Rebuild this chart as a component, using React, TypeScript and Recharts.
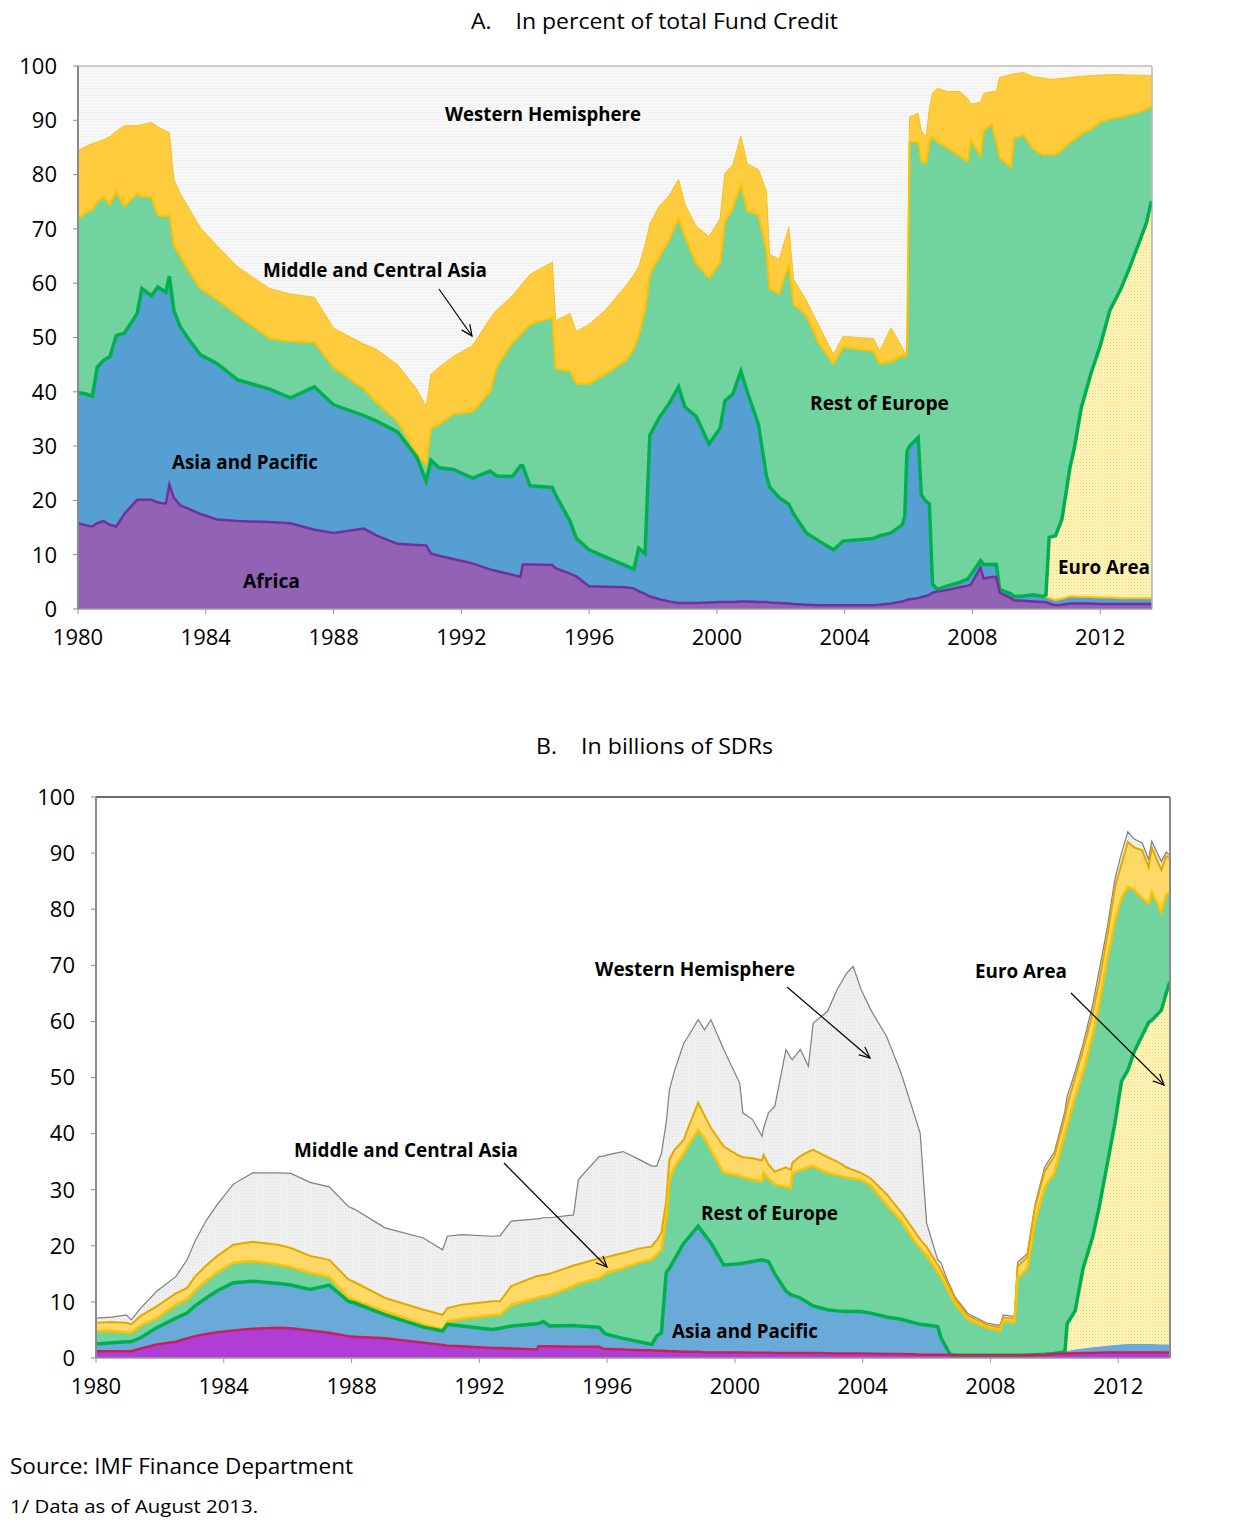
import React from 'react';
import { ComposedChart, Area, Line, XAxis, YAxis, CartesianGrid, ReferenceLine } from 'recharts';

// ---------- Panel A: in percent of total Fund credit (upper edge of each cumulative band) ----------
const yearsA = [1980, 1980.25, 1980.45, 1980.6, 1980.8, 1981, 1981.2, 1981.45, 1981.85, 1982, 1982.3, 1982.5, 1982.75, 1982.86, 1983, 1983.2, 1983.45, 1983.83, 1984.35, 1985, 1986, 1986.65, 1987.4, 1988, 1988.95, 1989.35, 1990, 1990.6, 1990.9, 1991.05, 1991.3, 1991.75, 1992.35, 1992.9, 1993.1, 1993.6, 1993.85, 1993.92, 1994.15, 1994.85, 1994.95, 1995.4, 1995.6, 1996, 1996.5, 1997.15, 1997.4, 1997.55, 1997.75, 1997.9, 1998.2, 1998.5, 1998.8, 1999, 1999.35, 1999.75, 2000.1, 2000.25, 2000.5, 2000.75, 2000.95, 2001.3, 2001.55, 2001.65, 2001.95, 2002.25, 2002.4, 2002.8, 2003.2, 2003.65, 2003.95, 2004.9, 2005.1, 2005.45, 2005.8, 2005.88, 2005.95, 2006.03, 2006.3, 2006.4, 2006.55, 2006.65, 2006.75, 2006.9, 2007.2, 2007.6, 2007.85, 2007.95, 2008.25, 2008.35, 2008.6, 2008.75, 2008.85, 2009.2, 2009.3, 2009.6, 2009.9, 2010.2, 2010.3, 2010.4, 2010.6, 2010.8, 2011.05, 2011.2, 2011.4, 2011.7, 2012, 2012.3, 2012.65, 2012.9, 2013.2, 2013.45, 2013.6];
const africaA = [15.8, 15.4, 15.2, 15.8, 16.2, 15.5, 15.2, 17.5, 20.1, 20.1, 20.1, 19.6, 19.4, 22.9, 20.5, 19.1, 18.5, 17.5, 16.5, 16.2, 16, 15.8, 14.6, 14, 14.8, 13.5, 12, 11.8, 11.7, 10.2, 9.8, 9.2, 8.4, 7.3, 7, 6.3, 5.9, 8.2, 8.2, 8.1, 7.5, 6.5, 6, 4.2, 4.1, 4, 3.8, 3.3, 2.8, 2.3, 1.8, 1.4, 1.1, 1.1, 1.1, 1.2, 1.3, 1.3, 1.3, 1.4, 1.4, 1.3, 1.3, 1.2, 1.1, 1, 0.9, 0.8, 0.7, 0.7, 0.7, 0.7, 0.8, 1, 1.4, 1.5, 1.7, 1.8, 2, 2.2, 2.4, 2.6, 3, 3.2, 3.5, 4, 4.3, 4.5, 7.6, 5.6, 5.9, 5.9, 3, 2, 1.6, 1.5, 1.4, 1.3, 1.3, 1, 0.7, 0.8, 1, 1, 1, 1, 0.9, 0.9, 0.9, 0.9, 0.9, 0.9, 0.9];
const asiaPacificTopA = [39.9, 39.6, 39.2, 44.5, 45.8, 46.5, 50.4, 50.8, 54.4, 59, 57.7, 59.3, 58.3, 61.3, 55, 52, 49.8, 46.8, 45.2, 42.2, 40.5, 38.9, 40.9, 37.6, 35.6, 34.6, 32.6, 28, 23.5, 27.4, 26, 25.7, 24.1, 25.4, 24.5, 24.4, 26.4, 26.4, 22.7, 22.4, 21, 16.2, 13, 10.9, 9.6, 8, 7.3, 11.2, 10.2, 32, 35.3, 37.8, 40.9, 37.2, 35.5, 30.4, 33.3, 38.3, 39.6, 43.8, 40, 34, 24.5, 22.5, 20.5, 19.3, 17.5, 14, 12.5, 10.9, 12.5, 13, 13.5, 14, 15.5, 17, 29, 30, 31.6, 21, 19.8, 19.4, 4.6, 3.6, 4.2, 4.9, 5.5, 6.3, 8.9, 8.2, 8.2, 8.2, 3.6, 2.8, 2.3, 2.4, 2.6, 2.3, 2.3, 2, 1.6, 1.9, 2.3, 2.3, 2.2, 2.2, 2.1, 2.1, 2, 2, 2, 2, 2];
const euroAreaTopA = [39.9, 39.6, 39.2, 44.5, 45.8, 46.5, 50.4, 50.8, 54.4, 59, 57.7, 59.3, 58.3, 61.3, 55, 52, 49.8, 46.8, 45.2, 42.2, 40.5, 38.9, 40.9, 37.6, 35.6, 34.6, 32.6, 28, 23.5, 27.4, 26, 25.7, 24.1, 25.4, 24.5, 24.4, 26.4, 26.4, 22.7, 22.4, 21, 16.2, 13, 10.9, 9.6, 8, 7.3, 11.2, 10.2, 32, 35.3, 37.8, 40.9, 37.2, 35.5, 30.4, 33.3, 38.3, 39.6, 43.8, 40, 34, 24.5, 22.5, 20.5, 19.3, 17.5, 14, 12.5, 10.9, 12.5, 13, 13.5, 14, 15.5, 17, 29, 30, 31.6, 21, 19.8, 19.4, 4.6, 3.6, 4.2, 4.9, 5.5, 6.3, 8.9, 8.2, 8.2, 8.2, 3.6, 2.8, 2.3, 2.4, 2.6, 2.3, 2.6, 13.2, 13.5, 16.5, 26, 30, 36.9, 43.2, 48.5, 55, 59, 62.6, 67.2, 71.2, 75.1];
const restEuropeTopA = [71.9, 73, 73.5, 75, 75.8, 74.5, 76.8, 74.2, 76.5, 76, 75.8, 72.5, 72.3, 72.8, 67, 65, 62.5, 59, 57, 54.1, 49.8, 49.3, 49.1, 44.5, 40.5, 38, 34.6, 28.7, 26.5, 33.3, 33.9, 35.9, 36.3, 40, 44.5, 49.1, 50.5, 51, 52.4, 53.7, 44.2, 43.8, 41.5, 41.5, 43.2, 45.8, 48, 50.4, 55, 61.6, 64.9, 68, 71.9, 68.6, 63.6, 61, 63.7, 71.3, 73.9, 78.2, 73.3, 72.6, 66, 59, 58, 63.5, 56.1, 54.1, 48.8, 45.2, 48.2, 47.5, 45.2, 45.5, 46.7, 46.5, 47, 86, 86, 82.4, 82.1, 86, 87, 86, 85, 83.4, 82.4, 86.4, 83.4, 88, 89.3, 86, 83.1, 81.4, 86.7, 87.3, 84.7, 83.7, 83.7, 83.7, 83.7, 84.5, 86, 86.5, 87.5, 88.3, 89.7, 90.3, 90.6, 91, 91.5, 92, 92.6];
const middleCentralAsiaTopA = [84.4, 85.2, 85.7, 86, 86.4, 87, 88, 89, 89, 89.2, 89.6, 88.8, 88, 87.7, 79.1, 76.5, 74, 70.2, 66.9, 63, 59, 58, 57.4, 51.7, 48.8, 47.8, 45, 40.5, 37.2, 43.2, 44.5, 46.5, 48.5, 53.5, 55, 57.7, 59.5, 60, 61.6, 63.9, 53.1, 54.4, 51.1, 52.4, 55, 59.5, 61.5, 63, 67, 70.9, 74.2, 76.1, 79.1, 74.5, 70.5, 68.6, 71.9, 80.2, 81.8, 87.1, 82, 80.9, 77, 65.3, 64.4, 70.3, 60.7, 56.8, 52.1, 46.9, 50.2, 49.8, 47.5, 51.8, 48.2, 47, 47.5, 90.6, 91.3, 88, 87, 92, 95, 95.9, 95.3, 95.3, 94, 93, 93.3, 94.9, 95.3, 95.3, 97.9, 98.4, 98.6, 98.8, 98, 97.8, 97.7, 97.6, 97.6, 97.7, 97.9, 98, 98.1, 98.2, 98.3, 98.4, 98.4, 98.3, 98.3, 98.2, 98.2];

// ---------- Panel B: in billions of SDRs (upper edge of each cumulative band) ----------
const yearsB = [1980, 1980.5, 1980.95, 1981.1, 1981.4, 1981.9, 1982.5, 1982.85, 1983.1, 1983.45, 1983.8, 1984.3, 1984.9, 1985.7, 1986.1, 1986.7, 1987.3, 1987.9, 1988.1, 1989.05, 1990.25, 1990.85, 1991, 1991.45, 1992.4, 1992.65, 1993, 1993.8, 1993.85, 1994, 1994.2, 1994.95, 1995.1, 1995.75, 1995.9, 1996, 1996.5, 1997, 1997.4, 1997.55, 1997.7, 1997.85, 1997.95, 1998.1, 1998.4, 1998.5, 1998.85, 1999.05, 1999.25, 1999.65, 2000.15, 2000.25, 2000.55, 2000.85, 2000.9, 2001.05, 2001.25, 2001.6, 2001.75, 2001.8, 2002.05, 2002.3, 2002.45, 2002.9, 2003.2, 2003.5, 2003.7, 2003.95, 2004.25, 2004.75, 2005.2, 2005.6, 2005.8, 2006, 2006.35, 2006.45, 2006.65, 2006.75, 2006.9, 2007.3, 2007.9, 2008.3, 2008.4, 2008.75, 2008.85, 2009.15, 2009.4, 2009.7, 2010, 2010.33, 2010.4, 2010.65, 2010.9, 2011.2, 2011.4, 2011.65, 2011.9, 2012.1, 2012.3, 2012.5, 2012.75, 2012.95, 2013.05, 2013.35, 2013.5, 2013.62];
const africaB = [1.2, 1.2, 1.2, 1.2, 1.7, 2.4, 2.9, 3.5, 3.9, 4.3, 4.6, 4.9, 5.2, 5.4, 5.3, 4.9, 4.5, 3.9, 3.8, 3.5, 2.7, 2.3, 2.2, 2.1, 1.8, 1.8, 1.7, 1.5, 2.1, 2.1, 2.1, 2, 2, 2, 1.6, 1.6, 1.5, 1.4, 1.4, 1.3, 1.3, 1.25, 1.2, 1.2, 1.1, 1.1, 1.1, 1, 1, 1, 1, 1, 0.95, 0.95, 0.95, 0.95, 0.9, 0.9, 0.9, 0.9, 0.9, 0.9, 0.9, 0.85, 0.8, 0.8, 0.8, 0.8, 0.75, 0.7, 0.7, 0.65, 0.6, 0.6, 0.6, 0.6, 0.6, 0.6, 0.5, 0.5, 0.5, 0.5, 0.5, 0.5, 0.5, 0.5, 0.55, 0.6, 0.7, 0.8, 0.8, 0.85, 0.9, 0.9, 0.95, 1, 1, 1, 1, 1, 1, 1, 1, 1, 1, 1];
const asiaPacificTopB = [2.5, 2.7, 2.9, 2.9, 3.6, 5.4, 7.1, 8, 9.3, 10.7, 12, 13.4, 13.7, 13.3, 13, 12.2, 13, 10.1, 9.8, 7.7, 5.5, 4.8, 6, 5.7, 5.1, 5.3, 5.7, 6.1, 6.1, 6.5, 5.7, 5.8, 5.7, 5.5, 4.5, 4.2, 3.5, 2.9, 2.4, 3.9, 4.5, 15.2, 16, 17.5, 20.5, 21.1, 23.5, 22, 20.5, 16.6, 16.8, 16.9, 17.2, 17.5, 17.4, 17.2, 15, 11.9, 11.3, 11.2, 10.7, 9.8, 9.3, 8.6, 8.4, 8.3, 8.3, 8.3, 8, 7.3, 6.9, 6.3, 6, 5.9, 5.6, 3.6, 1.5, 0.6, 0.5, 0.5, 0.5, 0.5, 0.5, 0.5, 0.5, 0.55, 0.6, 0.65, 0.8, 1.1, 1.2, 1.5, 1.7, 1.9, 2, 2.2, 2.3, 2.4, 2.5, 2.5, 2.5, 2.5, 2.5, 2.4, 2.4, 2.3];
const euroAreaTopB = [2.5, 2.7, 2.9, 2.9, 3.6, 5.4, 7.1, 8, 9.3, 10.7, 12, 13.4, 13.7, 13.3, 13, 12.2, 13, 10.1, 9.8, 7.7, 5.5, 4.8, 6, 5.7, 5.1, 5.3, 5.7, 6.1, 6.1, 6.5, 5.7, 5.8, 5.7, 5.5, 4.5, 4.2, 3.5, 2.9, 2.4, 3.9, 4.5, 15.2, 16, 17.5, 20.5, 21.1, 23.5, 22, 20.5, 16.6, 16.8, 16.9, 17.2, 17.5, 17.4, 17.2, 15, 11.9, 11.3, 11.2, 10.7, 9.8, 9.3, 8.6, 8.4, 8.3, 8.3, 8.3, 8, 7.3, 6.9, 6.3, 6, 5.9, 5.6, 3.6, 1.5, 0.6, 0.5, 0.5, 0.5, 0.5, 0.5, 0.5, 0.5, 0.55, 0.6, 0.65, 0.8, 1.1, 6.1, 8.4, 16, 21.6, 26.8, 34.4, 42, 49.3, 51.3, 54.6, 57.5, 59.8, 60.2, 62, 65, 67.1];
const restEuropeTopB = [4.8, 4.8, 4.6, 4.5, 5.8, 7.1, 9.5, 10.4, 12, 13.8, 15.3, 17, 17.3, 16.7, 16.2, 15.2, 14.5, 10.7, 10.3, 8.3, 6, 5.1, 6.5, 7, 7.6, 7.7, 9.5, 10.7, 10.8, 11, 11.2, 12.8, 13.3, 14.2, 14.8, 15.2, 16, 17, 17.6, 18.5, 19.3, 25, 31.8, 34, 36.5, 37.5, 40.7, 39.2, 37, 33, 32.5, 32.2, 31.8, 31.5, 33, 32, 31, 30.5, 30.3, 33, 33.5, 34, 34.2, 33, 32.6, 32.2, 32, 31.8, 30.8, 27.3, 24.5, 21, 19.6, 18.3, 15.3, 14.5, 12.3, 11.3, 9.6, 6.9, 5.4, 4.9, 6.6, 6.4, 14.3, 15.8, 24.5, 30.5, 33, 40, 41.5, 46.5, 51, 57.5, 63, 71, 78, 82, 84, 83.5, 82, 81, 83, 79.5, 82.5, 83];
const middleCentralAsiaTopB = [6.3, 6.4, 6.3, 6, 7.5, 9.2, 11.5, 12.5, 14.5, 16.5, 18.2, 20.2, 20.7, 20.2, 19.6, 18.2, 17.5, 14, 13.5, 10.7, 8.6, 7.7, 8.9, 9.5, 10.1, 10.1, 12.8, 14.6, 14.6, 14.8, 15, 16.5, 16.7, 17.8, 17.8, 18, 18.7, 19.5, 19.9, 21, 22.3, 28, 35.4, 37, 38.9, 40.5, 45.5, 43.2, 41, 37.7, 36, 35.8, 35.6, 35.2, 36.2, 34.5, 33.2, 34, 33.5, 34.8, 36, 36.8, 37.1, 35.8, 35, 34, 33.5, 33, 32, 29.2, 26, 22.8, 21.1, 19.8, 16.6, 15.7, 13.3, 12.2, 10.4, 7.5, 5.9, 5.4, 7.2, 7, 16.3, 18, 27, 33.3, 36, 43, 45, 50, 55, 61.5, 67, 75, 84, 88, 92, 91, 90.5, 87.5, 91, 87, 89.5, 89];
const westernHemisphereTopB = [7.1, 7.3, 7.7, 6.8, 8.9, 11.9, 14.5, 17.5, 20.8, 24.5, 27.4, 31, 33, 33, 32.9, 31.3, 30.5, 27, 26.5, 23.2, 21.4, 19.3, 21.7, 22, 21.7, 21.8, 24.4, 24.8, 24.8, 25, 25, 25.5, 31.8, 35.9, 36, 36.2, 36.8, 35.4, 34.2, 34.2, 36.5, 42, 47.8, 51, 56.1, 57, 60.3, 58.5, 60.3, 55, 49, 43.7, 42.5, 39.5, 41, 43.7, 44.9, 55, 53.5, 53.2, 55, 52, 59.7, 61.8, 65.7, 68.6, 69.8, 65.7, 62.1, 57.3, 50.8, 43.7, 40.1, 24.1, 17.5, 17, 13.9, 12.7, 10.8, 7.9, 6.2, 5.8, 7.7, 7.4, 17, 18.6, 27.5, 34.1, 36.7, 44, 46.6, 51, 56, 63, 69, 76.5, 85.5, 90, 93.8, 92.5, 91.8, 88.9, 92.1, 88.5, 90.2, 89.5];

const yearTicks = [1980, 1984, 1988, 1992, 1996, 2000, 2004, 2008, 2012];
const valueTicks = [0, 10, 20, 30, 40, 50, 60, 70, 80, 90, 100];

const dataA = yearsA.map((t, i) => ({
  t,
  africa: africaA[i],
  asia: asiaPacificTopA[i],
  euro: euroAreaTopA[i],
  roe: restEuropeTopA[i],
  mca: middleCentralAsiaTopA[i],
}));
const dataB = yearsB.map((t, i) => ({
  t,
  africa: africaB[i],
  asia: asiaPacificTopB[i],
  euro: euroAreaTopB[i],
  roe: restEuropeTopB[i],
  mca: middleCentralAsiaTopB[i],
  wh: westernHemisphereTopB[i],
}));

const FONT = '"Open Sans", "Noto Sans", "DejaVu Sans", sans-serif';
const tickStyle = { fill: '#000', fontSize: 22, fontFamily: FONT };

const Patterns = () => (
  <defs>
    <pattern id="whA" width="4" height="3" patternUnits="userSpaceOnUse">
      <rect width="4" height="3" fill="#F3F3F3" />
      <rect width="4" height="1" fill="#FAFAFA" />
    </pattern>
    <pattern id="whB" width="3" height="3" patternUnits="userSpaceOnUse">
      <rect width="3" height="3" fill="#F2F2F2" />
      <rect x="0" y="0" width="1" height="1" fill="#DCDCDC" />
      <rect x="1.5" y="1.5" width="1" height="1" fill="#E2E2E2" />
    </pattern>
    <pattern id="euroDots" width="3" height="3" patternUnits="userSpaceOnUse">
      <rect width="3" height="3" fill="#FFF6C4" />
      <rect x="0" y="0" width="1" height="1" fill="#F7D54E" />
      <rect x="1.5" y="1.5" width="1" height="1" fill="#FBE07A" />
    </pattern>
  </defs>
);

const ChartA = () => (
  <ComposedChart width={1243} height={660} data={dataA} margin={{ top: 66, right: 31, bottom: 21, left: 18 }}>
    <Patterns />
    <CartesianGrid horizontal={false} vertical={false} fill="url(#whA)" />
    <XAxis
      type="number"
      dataKey="t"
      domain={[1980, 2013.62]}
      ticks={yearTicks}
      allowDataOverflow
      height={30}
      tickSize={5}
      tickMargin={15}
      tick={tickStyle}
      stroke="#9A9A9A"
      axisLine={{ stroke: '#9A9A9A', strokeWidth: 1.5 }}
    />
    <YAxis yAxisId="l" domain={[0, 100]} ticks={valueTicks} width={60} tickSize={5} tickMargin={16} tick={tickStyle} stroke="#8A8A8A" axisLine={{ stroke: '#8A8A8A', strokeWidth: 2 }} />
    <YAxis yAxisId="r" orientation="right" domain={[0, 100]} ticks={valueTicks} width={60} tickSize={5} tickMargin={18} tick={{ ...tickStyle, textAnchor: 'start' }} stroke="#9A9A9A" />
    <ReferenceLine yAxisId="l" y={100} stroke="#BDBDBD" strokeWidth={1.5} />
    <Area yAxisId="l" type="linear" dataKey="mca" fill="#FFCC3E" fillOpacity={1} stroke="none" isAnimationActive={false} />
    <Area yAxisId="l" type="linear" dataKey="roe" fill="#71D39E" fillOpacity={1} stroke="none" isAnimationActive={false} />
    <Area yAxisId="l" type="linear" dataKey="euro" fill="url(#euroDots)" fillOpacity={1} stroke="none" isAnimationActive={false} />
    <Area yAxisId="l" type="linear" dataKey="asia" fill="#569FD3" fillOpacity={1} stroke="none" isAnimationActive={false} />
    <Area yAxisId="l" type="linear" dataKey="africa" fill="#9262B5" fillOpacity={1} stroke="none" isAnimationActive={false} />
    <Line yAxisId="l" type="linear" dataKey="mca" stroke="#F7C027" strokeWidth={1} dot={false} activeDot={false} isAnimationActive={false} />
    <Line yAxisId="l" type="linear" dataKey="roe" stroke="#FFC000" strokeWidth={2} dot={false} activeDot={false} isAnimationActive={false} />
    <Line yAxisId="l" type="linear" dataKey="asia" stroke="#FFC000" strokeWidth={2} dot={false} activeDot={false} isAnimationActive={false} />
    <Line yAxisId="l" type="linear" dataKey="euro" stroke="#00B050" strokeWidth={3.5} dot={false} activeDot={false} isAnimationActive={false} />
    <Line yAxisId="l" type="linear" dataKey="africa" stroke="#7030A0" strokeWidth={2.5} dot={false} activeDot={false} isAnimationActive={false} />
  </ComposedChart>
);

const ChartB = () => (
  <ComposedChart width={1243} height={660} data={dataB} margin={{ top: 57, right: 13, bottom: 12, left: 36 }}>
    <Patterns />
    <XAxis
      type="number"
      dataKey="t"
      domain={[1980, 2013.62]}
      ticks={yearTicks}
      allowDataOverflow
      height={30}
      tickSize={5}
      tickMargin={15}
      tick={tickStyle}
      stroke="#9A9A9A"
      axisLine={{ stroke: '#9A9A9A', strokeWidth: 1.5 }}
    />
    <YAxis yAxisId="l" domain={[0, 100]} ticks={valueTicks} width={60} tickSize={5} tickMargin={16} tick={tickStyle} stroke="#8A8A8A" axisLine={{ stroke: '#8A8A8A', strokeWidth: 2 }} />
    <YAxis yAxisId="r" orientation="right" domain={[0, 100]} ticks={valueTicks} width={60} tickSize={5} tickMargin={15} tick={{ ...tickStyle, textAnchor: 'start' }} stroke="#8A8A8A" axisLine={{ stroke: '#8A8A8A', strokeWidth: 2 }} />
    <ReferenceLine yAxisId="l" y={100} stroke="#3A3A3A" strokeWidth={1.5} />
    <Area yAxisId="l" type="linear" dataKey="wh" fill="url(#whB)" fillOpacity={1} stroke="none" isAnimationActive={false} />
    <Area yAxisId="l" type="linear" dataKey="mca" fill="#FFD966" fillOpacity={1} stroke="none" isAnimationActive={false} />
    <Area yAxisId="l" type="linear" dataKey="roe" fill="#71D39E" fillOpacity={1} stroke="none" isAnimationActive={false} />
    <Area yAxisId="l" type="linear" dataKey="euro" fill="url(#euroDots)" fillOpacity={1} stroke="none" isAnimationActive={false} />
    <Area yAxisId="l" type="linear" dataKey="asia" fill="#6AAAD8" fillOpacity={1} stroke="none" isAnimationActive={false} />
    <Area yAxisId="l" type="linear" dataKey="africa" fill="#B03DD5" fillOpacity={1} stroke="none" isAnimationActive={false} />
    <Line yAxisId="l" type="linear" dataKey="wh" stroke="#7F7F7F" strokeWidth={1.2} dot={false} activeDot={false} isAnimationActive={false} />
    <Line yAxisId="l" type="linear" dataKey="mca" stroke="#E3A800" strokeWidth={2} dot={false} activeDot={false} isAnimationActive={false} />
    <Line yAxisId="l" type="linear" dataKey="roe" stroke="#FFC000" strokeWidth={2.5} dot={false} activeDot={false} isAnimationActive={false} />
    <Line yAxisId="l" type="linear" dataKey="euro" stroke="#00B050" strokeWidth={3.5} dot={false} activeDot={false} isAnimationActive={false} />
    <Line yAxisId="l" type="linear" dataKey="africa" stroke="#C8205A" strokeWidth={2.5} dot={false} activeDot={false} isAnimationActive={false} />
  </ComposedChart>
);

const Label = ({ x, y, w, children, bold = true, size = 19 }: { x: number; y: number; w: number; children: React.ReactNode; bold?: boolean; size?: number }) => (
  <text x={x} y={y} dominantBaseline="central" fontFamily={FONT} fontWeight={bold ? 700 : 400} fontSize={size} fill="#000" textLength={w} lengthAdjust="spacingAndGlyphs" style={{ whiteSpace: 'pre' }}>
    {children}
  </text>
);

const Arrow = ({ x1, y1, x2, y2 }: { x1: number; y1: number; x2: number; y2: number }) => (
  <line x1={x1} y1={y1} x2={x2} y2={y2} stroke="#000" strokeWidth={1.2} markerEnd="url(#openArrow)" />
);

const Overlay = () => (
  <svg width={1243} height={1537} style={{ position: 'absolute', left: 0, top: 0, pointerEvents: 'none' }}>
    <defs>
      <marker id="openArrow" viewBox="0 0 12 12" refX="11" refY="6" markerWidth="12" markerHeight="12" markerUnits="userSpaceOnUse" orient="auto">
        <path d="M0,1 L11,6 L0,11" fill="none" stroke="#000" strokeWidth={1.2} />
      </marker>
    </defs>
    {/* titles */}
    <Label x={471} y={21} w={367} bold={false} size={21}>{'A.    In percent of total Fund Credit'}</Label>
    <Label x={536} y={746} w={237} bold={false} size={21}>{'B.    In billions of SDRs'}</Label>
    {/* panel A annotations */}
    <Label x={445} y={114} w={196}>Western Hemisphere</Label>
    <Label x={263} y={270} w={224}>Middle and Central Asia</Label>
    <Arrow x1={439} y1={289} x2={472} y2={336} />
    <Label x={810} y={403} w={139}>Rest of Europe</Label>
    <Label x={172} y={462} w={146}>Asia and Pacific</Label>
    <Label x={243} y={581} w={57}>Africa</Label>
    <Label x={1058} y={567} w={92}>Euro Area</Label>
    {/* panel B annotations */}
    <Label x={595} y={969} w={200}>Western Hemisphere</Label>
    <Arrow x1={787} y1={987} x2={870} y2={1058} />
    <Label x={975} y={971} w={92}>Euro Area</Label>
    <Arrow x1={1071} y1={993} x2={1164} y2={1085} />
    <Label x={294} y={1150} w={224}>Middle and Central Asia</Label>
    <Arrow x1={504} y1={1163} x2={607} y2={1267} />
    <Label x={701} y={1213} w={137}>Rest of Europe</Label>
    <Label x={672} y={1331} w={146}>Asia and Pacific</Label>
    {/* footer */}
    <Label x={10} y={1465} w={343} bold={false} size={22}>Source: IMF Finance Department</Label>
    <Label x={10} y={1506} w={248} bold={false} size={19}>1/ Data as of August 2013.</Label>
  </svg>
);

export default function App() {
  return (
    <div style={{ position: 'absolute', left: 0, top: 0, width: 1243, height: 1537, background: '#fff', fontFamily: FONT }}>
      <div style={{ position: 'absolute', left: 0, top: 0 }}>
        <ChartA />
      </div>
      <div style={{ position: 'absolute', left: 0, top: 740 }}>
        <ChartB />
      </div>
      <Overlay />
    </div>
  );
}
